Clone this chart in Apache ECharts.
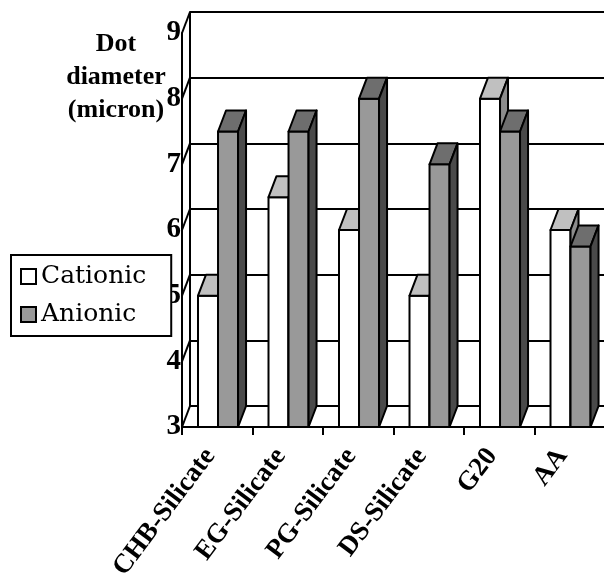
<!DOCTYPE html>
<html>
<head>
	<meta charset="UTF-8">
	<title></title>
	<style>
		html, body { margin: 0; padding: 0; background: #fff; }
		#chart { width: 604px; height: 573px; }
	</style>
	<script src="https://cdn.jsdelivr.net/npm/echarts@6/dist/echarts.min.js"></script>
</head>
<body>
	<div id="chart"></div>
	<script>
		var categories = ['CHB-Silicate', 'EG-Silicate', 'PG-Silicate', 'DS-Silicate', 'G20', 'AA'];
		var cationic = [5, 6.5, 6, 5, 8, 6];
		var anionic = [7.5, 7.5, 8, 7, 7.5, 5.75];
		var yTicks = [3, 4, 5, 6, 7, 8, 9];

		var FONT = "'Times New Roman', 'Liberation Serif', serif";
		// depth offset of the 3d look (front plane -> back wall)
		var DX = 8, DY = -21;

		var myChart = echarts.init(document.getElementById('chart'));

		// bar drawn as front face + top + side
		function barRenderer(offset, width, colors) {
			return function (params, api) {
				var idx = api.value(0);
				var top = api.coord([idx, api.value(1)]);
				var base = api.coord([idx, 3]);
				var cw = api.size([1, 0])[0];
				var x0 = top[0] - cw / 2 + offset * cw;
				var w = width * cw;
				var y0 = top[1], y1 = base[1];
				var line = { stroke: '#000', lineWidth: 2, lineJoin: 'round' };
				return {
					type: 'group',
					children: [
						{ type: 'rect', shape: { x: x0, y: y0, width: w, height: y1 - y0 },
							style: Object.assign({ fill: colors[0] }, line) },
						{ type: 'polygon', shape: { points: [[x0, y0], [x0 + w, y0], [x0 + w + DX, y0 + DY], [x0 + DX, y0 + DY]] },
							style: Object.assign({ fill: colors[1] }, line) },
						{ type: 'polygon', shape: { points: [[x0 + w, y0], [x0 + w + DX, y0 + DY], [x0 + w + DX, y1 + DY], [x0 + w, y1]] },
							style: Object.assign({ fill: colors[2] }, line) }
					]
				};
			};
		}

		var option = {
			animation: false,
			backgroundColor: '#fff',
			graphic: [{
				type: 'text',
				x: 116,
				y: 77,
				style: {
					text: 'Dot\ndiameter\n(micron)',
					fontFamily: FONT,
					fontWeight: 'bold',
					fontSize: 26,
					lineHeight: 33,
					fill: '#000',
					align: 'center',
					verticalAlign: 'middle'
				}
			}],
			legend: {
				orient: 'vertical',
				left: 11,
				top: 255,
				padding: [9, 25, 9, 9],
				itemGap: 13,
				itemWidth: 15,
				itemHeight: 15,
				backgroundColor: '#fff',
				borderColor: '#000',
				borderWidth: 2,
				borderRadius: 0,
				textStyle: { fontFamily: "'DejaVu Serif', serif", fontSize: 25, color: '#000' },
				data: [
					{ name: 'Cationic', icon: 'rect', itemStyle: { color: '#fff', borderColor: '#000', borderWidth: 2 } },
					{ name: 'Anionic', icon: 'rect', itemStyle: { color: '#999', borderColor: '#000', borderWidth: 2 } }
				]
			},
			grid: [
				// front plane
				{ left: 182, right: -1, top: 33, bottom: 146, outerBoundsMode: 'none', containLabel: false },
				// back wall
				{ left: 182 + DX, right: -1 - DX, top: 33 + DY, bottom: 146 - DY, outerBoundsMode: 'none', containLabel: false }
			],
			xAxis: [{
				gridIndex: 0,
				type: 'category',
				data: categories,
				axisLine: { lineStyle: { color: '#000', width: 2 } },
				axisTick: { show: true, length: 8, lineStyle: { color: '#000', width: 2 } },
				axisLabel: {
					interval: 0,
					rotate: 53,
					margin: 15,
					padding: [0, 12, 0, 0],
					fontFamily: FONT,
					fontWeight: 'bold',
					fontSize: 27,
					color: '#000'
				}
			}, {
				gridIndex: 1,
				type: 'category',
				data: categories,
				show: false
			}],
			yAxis: [{
				gridIndex: 0,
				type: 'value',
				min: 3,
				max: 9,
				interval: 1,
				axisLine: { show: true, lineStyle: { color: '#000', width: 2 } },
				axisTick: { show: false },
				splitLine: { show: false },
				axisLabel: {
					margin: 1,
					fontFamily: FONT,
					fontWeight: 'bold',
					fontSize: 29,
					color: '#000'
				}
			}, {
				gridIndex: 1,
				type: 'value',
				min: 3,
				max: 9,
				interval: 1,
				axisLine: { show: true, lineStyle: { color: '#000', width: 2 } },
				axisTick: { show: false },
				axisLabel: { show: false },
				splitLine: { show: true, lineStyle: { color: '#000', width: 2 } }
			}],
			series: [{
				name: 'ticks',
				type: 'custom',
				xAxisIndex: 0,
				yAxisIndex: 0,
				data: yTicks.map(function (v) { return [0, v]; }),
				renderItem: function (params, api) {
					var p = api.coord([0, api.value(1)]);
					var x = p[0] - api.size([1, 0])[0] / 2;
					return {
						type: 'line',
						shape: { x1: x, y1: p[1], x2: x + DX, y2: p[1] + DY },
						style: { stroke: '#000', lineWidth: 2 }
					};
				}
			}, {
				name: 'Cationic',
				type: 'custom',
				xAxisIndex: 0,
				yAxisIndex: 0,
				itemStyle: { color: '#fff' },
				data: cationic.map(function (v, i) { return [i, v]; }),
				renderItem: barRenderer(0.227, 0.284, ['#fff', '#c0c0c0', '#8c8c8c'])
			}, {
				name: 'Anionic',
				type: 'custom',
				xAxisIndex: 0,
				yAxisIndex: 0,
				itemStyle: { color: '#999' },
				data: anionic.map(function (v, i) { return [i, v]; }),
				renderItem: barRenderer(0.511, 0.284, ['#999', '#6e6e6e', '#4a4a4a'])
			}]
		};

		myChart.setOption(option);
	</script>
</body>
</html>
